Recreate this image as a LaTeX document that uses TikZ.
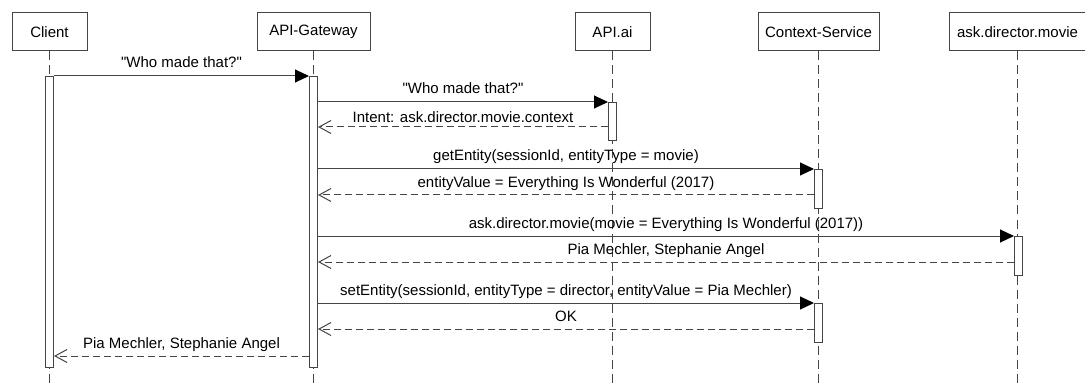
\documentclass[tikz,border=0pt]{standalone}
\usepackage{fontspec}
\setmainfont{Liberation Sans}
\usetikzlibrary{arrows.meta}
\definecolor{ink}{HTML}{454545}
\newcommand{\qt}[1]{\textquotedbl#1\textquotedbl}
\tikzset{
  actor/.style={draw=ink, line width=1pt, fill=white, minimum height=38pt,
    inner sep=0pt, font=\fontsize{15}{18}\selectfont},
  lifeline/.style={draw=ink, line width=1pt, dash pattern=on 9pt off 5pt},
  activation/.style={draw=ink, line width=1pt, fill=white, minimum width=8pt,
    inner sep=0pt, anchor=north},
  call/.style={draw=ink, line width=1pt,
    -{Triangle[length=14pt,width=13pt,fill=black,color=black]}},
  reply/.style={draw=ink, line width=1pt, dash pattern=on 7pt off 4pt,
    -{Straight Barb[length=12pt,width=13pt,line width=1pt]}},
  msg/.style={anchor=base, yshift=8pt, inner sep=0pt,
    font=\fontsize{15}{18}\selectfont, text=black},
}
\begin{document}
\begin{tikzpicture}[x=1pt, y=-1pt]
\useasboundingbox (0,0) rectangle (1085,385);

% participants
\node[actor, minimum width=75pt]  (client)  at (49.5,32)   {Client};
\node[actor, minimum width=113pt] (gateway) at (313.5,32)  {API-Gateway};
\node[actor, minimum width=75pt]  (apiai)   at (612.5,32)  {API.ai};
\node[actor, minimum width=121pt] (context) at (818.5,32)  {Context-Service};
\node[actor, minimum width=137pt] (director) at (1017.5,32) {ask.director.movie};

% lifelines run to the foot of the page
\coordinate (bottom) at (0,385);
\foreach \p in {client,gateway,apiai,context,director}
  \draw[lifeline] (\p.south) -- (\p.south |- bottom);

% activation bars
\node[activation, minimum height=291pt] (cact) at (49.5,76)   {};
\node[activation, minimum height=291pt] (gact) at (313.5,76)  {};
\node[activation, minimum height=38pt]  (aact) at (612.5,102) {};
\node[activation, minimum height=39pt]  (cs1)  at (818.5,169) {};
\node[activation, minimum height=39pt]  (dact) at (1018.5,236) {};
\node[activation, minimum height=39pt]  (cs2)  at (818.5,303) {};

% rows of the reply messages
\coordinate (m3)  at (0,127);
\coordinate (m5)  at (0,195);
\coordinate (m7)  at (0,262);
\coordinate (m9)  at (0,329);
\coordinate (m10) at (0,356);

\draw[call] (cact.north east) -- node[msg] {\qt{Who made that?}} (gact.north west);
\draw[call] (gact.east |- aact.north) -- node[msg] {\qt{Who made that?}} (aact.north west);
\draw[reply] (aact.west |- m3) -- node[msg, yshift=-4pt] {Intent: ask.director.movie.context} (gact.east |- m3);
\draw[call] (gact.east |- cs1.north) -- node[msg] {getEntity(sessionId, entityType = movie)} (cs1.north west);
\draw[reply] (cs1.west |- m5) -- node[msg] {entityValue = Everything Is Wonderful (2017)} (gact.east |- m5);
\draw[call] (gact.east |- dact.north) -- node[msg] {ask.director.movie(movie = Everything Is Wonderful (2017))} (dact.north west);
\draw[reply] (dact.west |- m7) -- node[msg] {Pia Mechler, Stephanie Angel} (gact.east |- m7);
\draw[call] (gact.east |- cs2.north) -- node[msg] {setEntity(sessionId, entityType = director, entityValue = Pia Mechler)} (cs2.north west);
\draw[reply] (cs2.west |- m9) -- node[msg] {OK} (gact.east |- m9);
\draw[reply] (gact.west |- m10) -- node[msg] {Pia Mechler, Stephanie Angel} (cact.east |- m10);
\end{tikzpicture}
\end{document}
